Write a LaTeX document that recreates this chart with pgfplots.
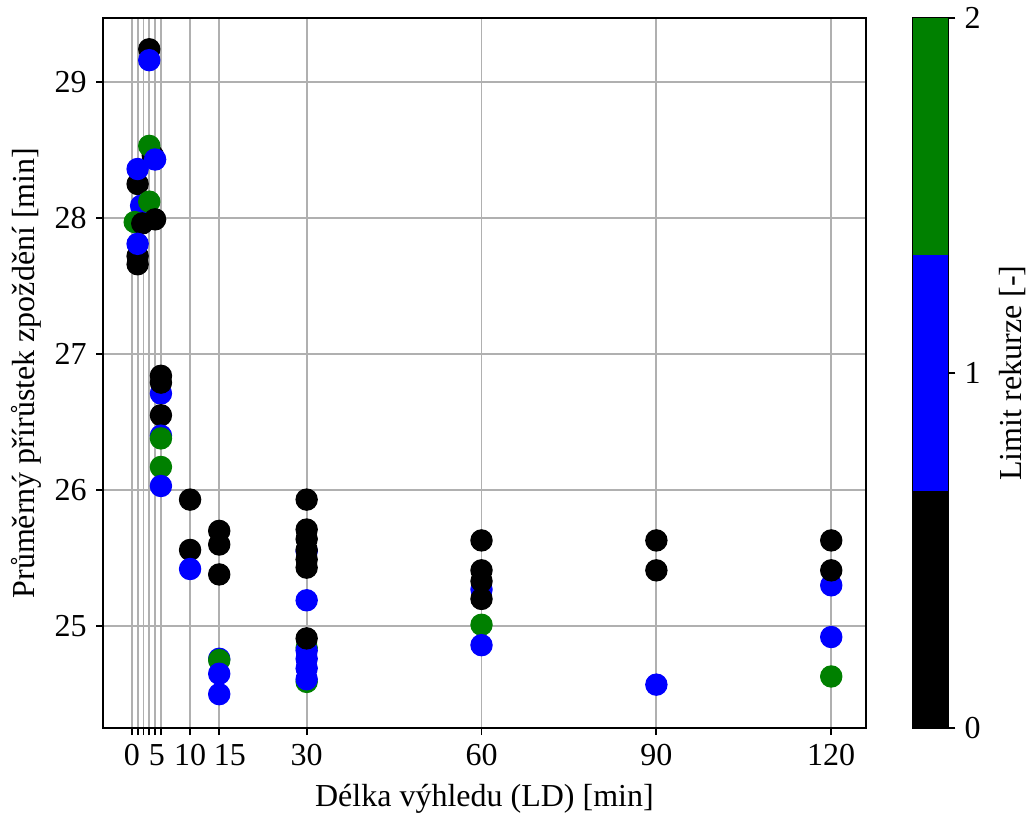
\documentclass[border=0pt]{standalone}
\usepackage{fontspec}
\setmainfont{Liberation Serif}
\usepackage{pgfplots}
\pgfplotsset{compat=1.18}
\usetikzlibrary{calc}
\definecolor{mplgreen}{RGB}{0,128,0}
\definecolor{mplblue}{RGB}{0,0,255}
\definecolor{gridgray}{RGB}{176,176,176}

\pgfplotstableread{
x y c
3 29.24 0
3 29.16 1
3.6 28.46 0
3 28.53 2
4 28.43 1
1 28.25 0
1 28.36 1
1.6 28.09 1
3 28.12 2
0.5 27.97 2
1.8 27.96 0
4 27.99 0
1 27.66 0
1 27.72 0
1 27.81 1
5 26.71 1
5 26.84 0
5 26.79 0
5 26.55 0
5 26.40 1
5 26.38 2
5 26.17 2
5 26.03 1
10 25.93 0
10 25.56 0
10 25.42 1
15 25.70 0
15 25.60 0
15 25.38 0
15 24.76 1
15 24.75 2
15 24.65 1
15 24.50 1
30 25.55 1
30 25.93 0
30 25.71 0
30 25.64 0
30 25.56 0
30 25.49 0
30 25.43 0
30 25.19 1
30 24.84 2
30 24.59 2
30 24.82 1
30 24.76 1
30 24.69 1
30 24.61 1
30 24.91 0
60 25.27 1
60 25.63 0
60 25.41 0
60 25.33 0
60 25.20 0
60 25.01 2
60 24.86 1
90 25.63 0
90 25.41 0
90 24.57 1
120 25.30 1
120 25.63 0
120 25.41 0
120 24.92 1
120 24.63 2
}\points

\begin{document}
\begin{tikzpicture}
\useasboundingbox (-38.6pt,-33.75pt) rectangle (346.5pt,273.05pt);
\pgfplotsset{
  every axis/.append style={
    /pgf/number format/assume math mode=true,
    ticklabel style={font=\fontsize{12}{14}\selectfont},
    label style={font=\fontsize{12}{14}\selectfont},
    tick align=outside,
    major tick length=2.6pt,
    tick style={black, line width=0.7pt},
    axis line style={line width=0.7pt},
  }
}
\begin{axis}[
    name=main,
    at={(0,0)}, anchor=south west,
    scale only axis,
    width=286.1pt, height=266.3pt,
    xmin=-4.95, xmax=125.95,
    ymin=24.25, ymax=29.47,
    xtick={0,1,2,3,4,5,10,15,30,60,90,120},
    xticklabels={0,,,,,5\hspace*{3pt},10,\hspace*{8pt}15,30,60,90,120},
    ytick={25,26,27,28,29},
    tick pos=left,
    grid=major,
    major grid style={color=gridgray, line width=0.7pt},
    xlabel={Délka výhledu (LD) [min]},
    ylabel={Průměrný přírůstek zpoždění [min]},
    ylabel style={yshift=-2pt},
]
\addplot[scatter, only marks, mark=*, mark size=4pt,
  scatter src=explicit symbolic,
  scatter/classes={0={black},1={mplblue},2={mplgreen}}]
  table[x=x, y=y, meta=c] {\points};
\end{axis}

\begin{axis}[
    at={($(main.south east)+(17.6pt,0)$)}, anchor=south west,
    scale only axis,
    width=13.3pt, height=266.3pt,
    xmin=0, xmax=1, ymin=0, ymax=2,
    xtick=\empty,
    ytick={0,1,2},
    ytick pos=right,
    yticklabel pos=right,
    ylabel={Limit rekurze [-]},
]
\addplot[fill=black, draw=none] coordinates {(0,0) (1,0) (1,0.6667) (0,0.6667)} -- cycle;
\addplot[fill=mplblue, draw=none] coordinates {(0,0.6667) (1,0.6667) (1,1.3333) (0,1.3333)} -- cycle;
\addplot[fill=mplgreen, draw=none] coordinates {(0,1.3333) (1,1.3333) (1,2) (0,2)} -- cycle;
\end{axis}
\end{tikzpicture}
\end{document}
